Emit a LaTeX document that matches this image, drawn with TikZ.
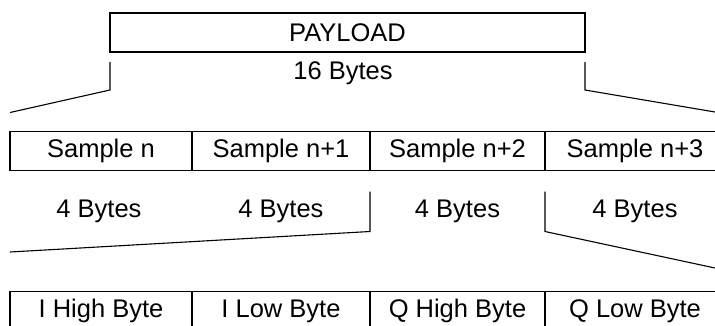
\documentclass[tikz,border=0pt]{standalone}
\usepackage{fontspec}
\setmainfont{Liberation Sans}
\usepackage{tikz}
\usetikzlibrary{positioning}

\begin{document}
\begin{tikzpicture}[x=1pt, y=-1pt,
    font=\fontsize{25.5}{30}\selectfont,
    field/.style={draw, line width=1.1pt, inner sep=0pt, outer sep=0pt,
                  minimum height=39pt},
    brace/.style={line width=1.1pt}]
      \useasboundingbox (0, 0) rectangle (715, 325);
      \clip (0, 0) rectangle (715, 325);

      % Draw payload box.
      \node [field, minimum width=475pt] (payload) at (347.5, 32.5) {PAYLOAD};
      \node (len16) at (343, 73) {16 Bytes};

      % Draw sample fields.
      \node [field, minimum width=182pt] (s1) at (101, 151) {Sample n};
      \node [field, minimum width=178pt] (s2) at (281, 151) {Sample n+1};
      \node [field, minimum width=175pt] (s3) at (457.5, 151) {Sample n+2};
      \node [field, minimum width=180pt] (s4) at (635, 151) {Sample n+3};

      \node (len1) at (99, 211) {4 Bytes};
      \node (len2) at (281, 211) {4 Bytes};
      \node (len3) at (457.5, 211) {4 Bytes};
      \node (len4) at (635, 211) {4 Bytes};

      % Draw byte fields.
      \node [field, minimum width=182pt] (b1) at (101, 311) {I High Byte};
      \node [field, minimum width=178pt] (b2) at (281, 311) {I Low Byte};
      \node [field, minimum width=175pt] (b3) at (457.5, 311) {Q High Byte};
      \node [field, minimum width=180pt] (b4) at (635, 311) {Q Low Byte};

      % Draw expansion lines.
      \coordinate (r1) at (715, 112);
      \coordinate (l2) at (10, 252);
      \coordinate (r2) at (715, 268);
      \draw [brace] ([yshift=-10pt]payload.south west) -- ++(0, 28)
            -- ([yshift=19pt]s1.north west);
      \draw [brace] ([yshift=-10pt]payload.south east) -- ++(0, 28) -- (r1);
      \draw [brace] ([yshift=-21pt]s3.south west) -- ++(0, 40) -- (l2);
      \draw [brace] ([yshift=-21pt]s4.south west) -- ++(0, 40) -- (r2);
\end{tikzpicture}
\end{document}
